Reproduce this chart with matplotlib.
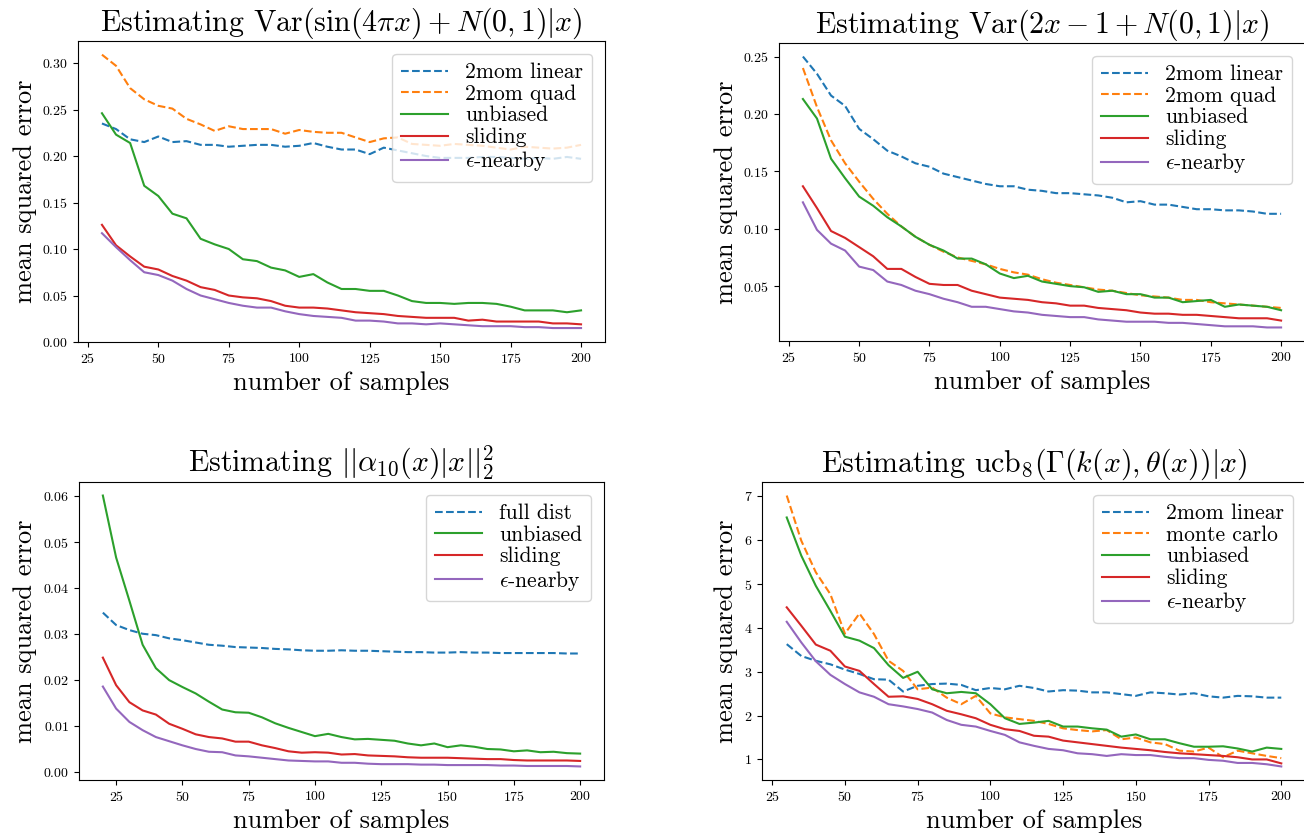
import numpy as np
import matplotlib
matplotlib.use("Agg")
import matplotlib.pyplot as plt

plt.rcParams['font.family'] = 'serif'
plt.rcParams['font.serif'] = ['cmr10']
plt.rcParams['mathtext.fontset'] = 'cm'
plt.rcParams['axes.formatter.use_mathtext'] = True
plt.rcParams['axes.unicode_minus'] = False

# x values
n_a = list(range(30, 201, 5))
n_c = list(range(20, 201, 5))

# Panel 1: Var(sin(4 pi x) + N(0,1) | x)
p1_lin = [0.235, 0.229, 0.218, 0.215, 0.221, 0.215, 0.216, 0.212, 0.212, 0.210, 0.211, 0.212,
          0.212, 0.210, 0.211, 0.214, 0.210, 0.207, 0.207, 0.202, 0.209, 0.206, 0.203, 0.200,
          0.198, 0.198, 0.198, 0.199, 0.199, 0.198, 0.197, 0.198, 0.197, 0.199, 0.197]
p1_quad = [0.309, 0.297, 0.273, 0.261, 0.254, 0.251, 0.240, 0.234, 0.227, 0.232, 0.229, 0.229,
           0.229, 0.224, 0.228, 0.226, 0.225, 0.225, 0.220, 0.215, 0.219, 0.220, 0.213, 0.212,
           0.211, 0.213, 0.212, 0.211, 0.209, 0.207, 0.210, 0.209, 0.208, 0.209, 0.212]
p1_unb = [0.246, 0.223, 0.214, 0.168, 0.157, 0.138, 0.133, 0.111, 0.105, 0.100, 0.089, 0.087,
          0.080, 0.077, 0.070, 0.073, 0.064, 0.057, 0.057, 0.055, 0.055, 0.050, 0.044, 0.042,
          0.042, 0.041, 0.042, 0.042, 0.041, 0.038, 0.034, 0.034, 0.034, 0.032, 0.034]
p1_sld = [0.126, 0.104, 0.092, 0.081, 0.078, 0.071, 0.066, 0.059, 0.056, 0.050, 0.048, 0.047,
          0.044, 0.039, 0.037, 0.037, 0.036, 0.034, 0.032, 0.031, 0.030, 0.028, 0.027, 0.026,
          0.026, 0.026, 0.023, 0.024, 0.022, 0.022, 0.022, 0.022, 0.020, 0.020, 0.019]
p1_eps = [0.117, 0.102, 0.088, 0.075, 0.072, 0.066, 0.057, 0.050, 0.046, 0.042, 0.039, 0.037,
          0.037, 0.033, 0.030, 0.028, 0.027, 0.026, 0.023, 0.023, 0.022, 0.020, 0.020, 0.019,
          0.020, 0.019, 0.018, 0.017, 0.017, 0.017, 0.016, 0.016, 0.015, 0.015, 0.015]

# Panel 2: Var(2x - 1 + N(0,1) | x)
p2_lin = [0.250, 0.235, 0.216, 0.207, 0.187, 0.178, 0.168, 0.163, 0.157, 0.154, 0.148, 0.145,
          0.142, 0.139, 0.137, 0.137, 0.134, 0.133, 0.131, 0.131, 0.130, 0.129, 0.127, 0.123,
          0.124, 0.121, 0.121, 0.119, 0.117, 0.117, 0.116, 0.116, 0.115, 0.113, 0.113]
p2_quad = [0.240, 0.206, 0.177, 0.157, 0.141, 0.126, 0.113, 0.102, 0.093, 0.086, 0.080, 0.075,
           0.072, 0.069, 0.065, 0.062, 0.060, 0.056, 0.053, 0.051, 0.049, 0.047, 0.046, 0.044,
           0.042, 0.041, 0.040, 0.038, 0.038, 0.036, 0.035, 0.034, 0.033, 0.032, 0.031]
p2_unb = [0.213, 0.196, 0.161, 0.144, 0.128, 0.120, 0.110, 0.102, 0.093, 0.086, 0.081, 0.074,
          0.074, 0.069, 0.061, 0.057, 0.059, 0.054, 0.052, 0.050, 0.049, 0.045, 0.046, 0.043,
          0.043, 0.040, 0.040, 0.036, 0.037, 0.038, 0.032, 0.034, 0.033, 0.032, 0.029]
p2_sld = [0.137, 0.118, 0.098, 0.092, 0.084, 0.076, 0.065, 0.065, 0.058, 0.052, 0.051, 0.051,
          0.046, 0.043, 0.040, 0.039, 0.038, 0.036, 0.035, 0.033, 0.033, 0.031, 0.030, 0.029,
          0.027, 0.026, 0.026, 0.025, 0.025, 0.024, 0.023, 0.022, 0.022, 0.022, 0.020]
p2_eps = [0.123, 0.099, 0.087, 0.081, 0.067, 0.064, 0.054, 0.051, 0.046, 0.043, 0.039, 0.036,
          0.032, 0.032, 0.030, 0.028, 0.027, 0.025, 0.024, 0.023, 0.023, 0.021, 0.020, 0.019,
          0.019, 0.019, 0.018, 0.018, 0.017, 0.016, 0.015, 0.015, 0.015, 0.014, 0.014]

# Panel 3: ||alpha_10(x)|x||_2^2
p3_full = [0.0347, 0.0320, 0.0309, 0.0301, 0.0298, 0.0291, 0.0287, 0.0282, 0.0277, 0.0275,
           0.0272, 0.0271, 0.0270, 0.0268, 0.0267, 0.0265, 0.0264, 0.0264, 0.0265, 0.0264,
           0.0264, 0.0263, 0.0262, 0.0261, 0.0261, 0.0260, 0.0260, 0.0261, 0.0260, 0.0260,
           0.0259, 0.0259, 0.0259, 0.0259, 0.0259, 0.0258, 0.0258]
p3_unb = [0.0602, 0.0467, 0.0373, 0.0277, 0.0226, 0.0200, 0.0185, 0.0171, 0.0153, 0.0136,
          0.0130, 0.0129, 0.0119, 0.0106, 0.0096, 0.0087, 0.0078, 0.0083, 0.0076, 0.0071,
          0.0072, 0.0070, 0.0068, 0.0062, 0.0058, 0.0062, 0.0054, 0.0058, 0.0055, 0.0050,
          0.0049, 0.0045, 0.0047, 0.0043, 0.0044, 0.0041, 0.0040]
p3_sld = [0.0249, 0.0189, 0.0152, 0.0134, 0.0125, 0.0105, 0.0094, 0.0082, 0.0076, 0.0073,
          0.0066, 0.0066, 0.0058, 0.0052, 0.0045, 0.0042, 0.0043, 0.0042, 0.0038, 0.0039,
          0.0036, 0.0035, 0.0034, 0.0032, 0.0031, 0.0031, 0.0031, 0.0030, 0.0029, 0.0028,
          0.0028, 0.0026, 0.0025, 0.0025, 0.0025, 0.0025, 0.0024]
p3_eps = [0.0186, 0.0138, 0.0109, 0.0091, 0.0076, 0.0067, 0.0058, 0.0050, 0.0044, 0.0043,
          0.0036, 0.0034, 0.0031, 0.0028, 0.0025, 0.0024, 0.0023, 0.0023, 0.0020, 0.0020,
          0.0018, 0.0017, 0.0017, 0.0017, 0.0016, 0.0016, 0.0015, 0.0015, 0.0015, 0.0015,
          0.0014, 0.0014, 0.0013, 0.0013, 0.0013, 0.0013, 0.0012]

# Panel 4: ucb_8(Gamma(k(x), theta(x)) | x)
p4_lin = [3.63, 3.36, 3.25, 3.17, 3.05, 2.95, 2.83, 2.82, 2.55, 2.68, 2.72, 2.73, 2.70, 2.58,
          2.63, 2.60, 2.68, 2.63, 2.55, 2.58, 2.57, 2.53, 2.53, 2.49, 2.45, 2.53, 2.51, 2.48,
          2.51, 2.44, 2.41, 2.45, 2.44, 2.41, 2.41]
p4_mc = [7.02, 5.99, 5.27, 4.77, 3.87, 4.33, 3.86, 3.25, 3.02, 2.60, 2.64, 2.41, 2.26, 2.45,
         2.05, 1.96, 1.92, 1.88, 1.81, 1.71, 1.67, 1.64, 1.67, 1.46, 1.50, 1.39, 1.35, 1.20,
         1.18, 1.27, 1.05, 1.20, 1.14, 1.08, 1.03]
p4_unb = [6.52, 5.65, 4.96, 4.39, 3.80, 3.71, 3.54, 3.15, 2.86, 3.00, 2.60, 2.51, 2.54, 2.51,
          2.26, 1.94, 1.81, 1.84, 1.88, 1.75, 1.75, 1.71, 1.68, 1.52, 1.57, 1.46, 1.46, 1.37,
          1.29, 1.29, 1.30, 1.25, 1.18, 1.27, 1.24]
p4_sld = [4.47, 4.05, 3.62, 3.48, 3.12, 3.02, 2.72, 2.43, 2.44, 2.38, 2.26, 2.11, 2.03, 1.94,
          1.79, 1.69, 1.65, 1.54, 1.52, 1.43, 1.39, 1.35, 1.31, 1.27, 1.24, 1.21, 1.17, 1.14,
          1.12, 1.10, 1.08, 1.05, 1.00, 1.00, 0.91]
p4_eps = [4.14, 3.67, 3.24, 2.93, 2.72, 2.53, 2.43, 2.26, 2.21, 2.15, 2.07, 1.90, 1.79, 1.75,
          1.65, 1.56, 1.39, 1.31, 1.24, 1.21, 1.14, 1.12, 1.08, 1.12, 1.10, 1.10, 1.06, 1.03,
          1.03, 0.99, 0.97, 0.92, 0.92, 0.89, 0.84]

titles = [r"Estimating Var$(\sin(4\pi x)+N(0,1)|x)$",
          r"Estimating Var$(2x-1+N(0,1)|x)$",
          r"Estimating $||\alpha_{10}(x)|x||_2^2$",
          r"Estimating ucb$_8(\Gamma(k(x),\theta(x))|x)$"]
eps_label = r"$\epsilon$-nearby"

W, H = 1304, 833
fig = plt.figure(figsize=(W / 100, H / 100), dpi=100)

def px_axes(left, top, right, bottom):
    return fig.add_axes([left / W, 1 - bottom / H, (right - left) / W, (bottom - top) / H])

boxes = [(78, 41, 605, 342), (779, 43, 1305, 341), (79, 482, 604, 780), (762, 482, 1306, 780)]
axs = [px_axes(*b) for b in boxes]

TITLE_FS = 21.5
LABEL_FS = 19
LEG_FS = 15.5
TICK_FS = 10

def series(ax, x, ys, labels, styles, colors):
    for y, lab, ls, c in zip(ys, labels, styles, colors):
        ax.plot(x, y, ls, color=c, label=lab, lw=1.5)

series(axs[0], n_a, [p1_lin, p1_quad, p1_unb, p1_sld, p1_eps],
       ["2mom linear", "2mom quad", "unbiased", "sliding", eps_label],
       ['--', '--', '-', '-', '-'], ['C0', 'C1', 'C2', 'C3', 'C4'])
series(axs[1], n_a, [p2_lin, p2_quad, p2_unb, p2_sld, p2_eps],
       ["2mom linear", "2mom quad", "unbiased", "sliding", eps_label],
       ['--', '--', '-', '-', '-'], ['C0', 'C1', 'C2', 'C3', 'C4'])
series(axs[2], n_c, [p3_full, p3_unb, p3_sld, p3_eps],
       ["full dist", "unbiased", "sliding", eps_label],
       ['--', '-', '-', '-'], ['C0', 'C2', 'C3', 'C4'])
series(axs[3], n_a, [p4_lin, p4_mc, p4_unb, p4_sld, p4_eps],
       ["2mom linear", "monte carlo", "unbiased", "sliding", eps_label],
       ['--', '--', '-', '-', '-'], ['C0', 'C1', 'C2', 'C3', 'C4'])

axs[0].set_ylim(bottom=0)

for ax, t in zip(axs, titles):
    ax.set_title(t, fontsize=TITLE_FS)
    ax.set_xlabel("number of samples", fontsize=LABEL_FS, labelpad=4)
    ax.set_ylabel("mean squared error", fontsize=LABEL_FS)
    ax.tick_params(labelsize=TICK_FS)
    ax.set_xticks([25, 50, 75, 100, 125, 150, 175, 200])
    ax.legend(loc='upper right', fontsize=LEG_FS, labelspacing=0.1,
              borderaxespad=0.6, handlelength=2.2)

fig.savefig("out.png", dpi=100)
